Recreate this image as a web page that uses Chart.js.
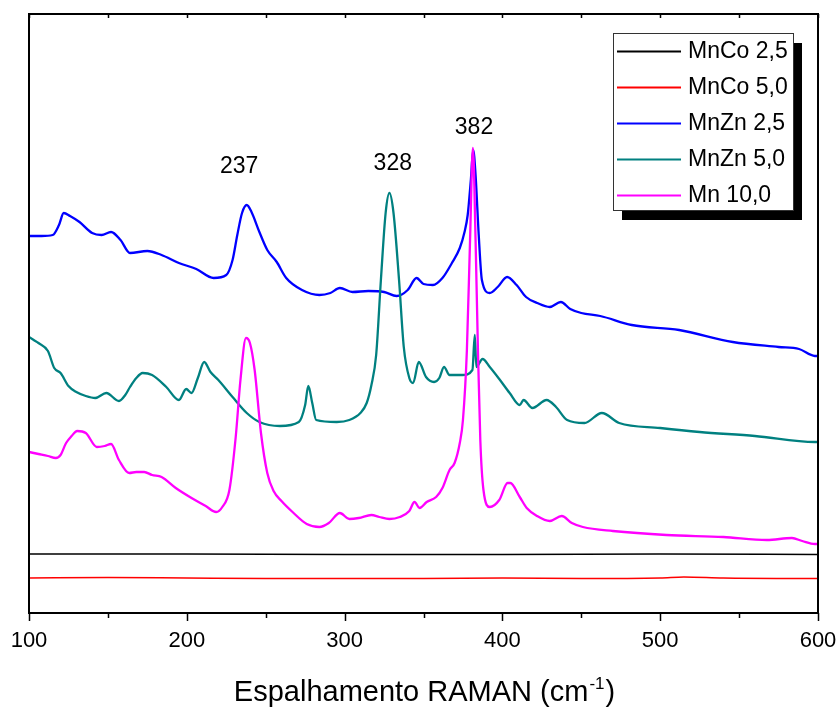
<!DOCTYPE html>
<html>
<head>
<meta charset="utf-8">
<script src="https://cdn.jsdelivr.net/npm/chart.js@4.4.0/dist/chart.umd.min.js"></script>
<style>
    html, body { margin: 0; padding: 0; background: #fff; }
    #raman { display: block; }
</style>
</head>
<body>
<canvas id="raman" width="840" height="711"></canvas>
<script>
// Raman spectra (intensity in arbitrary units, curves stacked with an offset)
const seriesNames = ['MnCo 2,5', 'MnCo 5,0', 'MnZn 2,5', 'MnZn 5,0', 'Mn 10,0'];
const peakLabels = [237, 328, 382];
const xTicks = [100, 200, 300, 400, 500, 600];

const mnCo25X = [100, 200, 300, 400, 500, 600];
const mnCo25Y = [59, 59, 58.5, 58.5, 59, 58.5];

const mnCo50X = [100, 150, 200, 250, 300, 350, 400, 450, 500, 515, 540, 600];
const mnCo50Y = [35, 35.5, 35, 34.5, 34.5, 34.5, 35, 34.5, 35, 36, 35, 34.5];

const mnZn25X = [100, 108, 115, 119, 122, 126, 132, 140, 146, 152, 158, 164, 175, 184, 195, 206, 217, 225, 229, 232,
    235, 238, 241, 246, 251, 257, 263, 273, 284, 291, 297, 305, 315, 325, 333, 340, 345.6, 350, 356, 362,
    368, 373, 376, 378, 380, 381.5, 383, 385, 387, 392, 397, 403, 409, 415, 422, 430, 437, 443, 450, 462,
    482, 512, 546, 575, 588, 598, 600];
const mnZn25Y = [377, 377, 378, 388, 400, 397, 391, 380, 378, 381, 373, 360, 362, 358, 350, 344, 335, 338, 353, 378,
    400, 408, 401, 381, 363, 351, 335, 323, 318, 320, 325, 321, 322, 321, 317, 323, 335, 329, 328, 335,
    350, 365, 381, 398, 433, 463, 438, 378, 333, 320, 326, 336, 328, 316, 310, 306, 311, 304, 300, 297,
    288, 283, 271, 266, 264, 257, 257];

const mnZn50X = [100, 103, 106, 112, 116, 120, 125, 130, 136, 142, 149, 157, 161, 164, 168, 172, 178, 187, 195, 199.6,
    203, 207, 211, 215, 220, 229, 238, 246, 259, 271, 275, 277, 279.5, 282, 295, 303, 310, 314, 317, 320,
    323, 326, 328.4, 331, 334.5, 337.5, 341, 343.4, 347, 351.6, 356.7, 360, 363, 366.5, 374.7, 381, 382.5, 383.5, 387.4, 392,
    398, 404.6, 411, 413.4, 419, 428, 434, 441, 452, 463, 474, 500, 525, 560, 598, 600];
const mnZn50Y = [276, 273, 270, 262, 245, 240, 227, 221, 217, 215, 220, 212, 218, 226, 235, 240, 238, 226, 213, 224,
    220, 235, 251, 241, 233, 216, 200, 191, 187, 191, 208, 227, 210, 193, 191, 193, 200, 210, 228, 258,
    333, 400, 420, 400, 333, 266, 235, 230, 251, 236, 231, 235, 246, 238, 238, 243, 278, 246, 254, 246,
    234, 220, 208, 213, 205, 213, 206, 193, 190, 200, 190, 185, 181, 177, 171, 171];

const mn100X = [100, 106, 112, 117, 120, 123.5, 127, 130.5, 136, 143, 148, 152, 157, 163.5, 168, 173, 178, 184, 193, 203,
    212, 218.6, 222.5, 227, 231, 234, 237.5, 240, 243, 247, 251, 255, 260, 267, 276, 284, 290, 297, 303, 309,
    317, 322, 328.4, 335, 341, 344.3, 347.5, 352, 358, 362, 366.5, 369.7, 373, 375, 377.5, 379.5, 381.3, 383, 384.5, 386,
    388, 392, 398, 403.3, 405, 411, 415.4, 422, 430, 437.6, 444, 451, 470, 504, 540, 567.6, 583.5, 590, 598, 600];
const mn100Y = [161, 159, 157, 155, 158, 170, 177, 182, 180, 166, 167, 169, 153, 140, 141, 141, 138, 136, 125, 115,
    107, 101, 106, 123, 176, 233, 275, 270, 243, 180, 140, 122, 112, 101, 89, 86, 90, 100, 94, 95,
    98, 96, 94, 96, 102, 111, 105, 111, 116, 125, 143, 150, 170, 193, 263, 373, 465, 373, 263, 173,
    123, 106, 113, 130, 130, 116, 105, 97, 92, 97, 90, 86, 82, 78, 76, 73, 75, 72, 69, 69];

const pts = (xs, ys) => xs.map((x, i) => ({ x, y: ys[i] }));

const colors = ['#000000', '#ff0000', '#0000ff', '#008080', '#ff00ff'];
const seriesData = [pts(mnCo25X, mnCo25Y), pts(mnCo50X, mnCo50Y), pts(mnZn25X, mnZn25Y), pts(mnZn50X, mnZn50Y), pts(mn100X, mn100Y)];

const FONT = 'Arial, "Liberation Sans", sans-serif';

// frame, ticks, axis title, peak labels and the shadowed legend
const decor = {
    id: 'decor',
    afterDraw(chart) {
        const { ctx, chartArea: a, scales: { x } } = chart;
        ctx.save();
        ctx.strokeStyle = '#000';
        ctx.lineWidth = 2;
        ctx.strokeRect(a.left, a.top, a.right - a.left, a.bottom - a.top);

        // bottom ticks (outward) and mirrored top ticks (inward)
        ctx.lineWidth = 1.5;
        for (let v = 100; v <= 600; v += 50) {
            const px = Math.round(x.getPixelForValue(v)) + 0.5;
            const major = v % 100 === 0;
            ctx.beginPath();
            ctx.moveTo(px, a.bottom);
            ctx.lineTo(px, a.bottom + (major ? 8 : 5));
            ctx.moveTo(px, a.top);
            ctx.lineTo(px, a.top + 4);
            ctx.stroke();
        }

        // axis title with superscript
        ctx.fillStyle = '#000';
        ctx.textBaseline = 'alphabetic';
        const main = 'Espalhamento RAMAN (cm', sup = '-1', end = ')';
        ctx.font = '29px ' + FONT;
        const w1 = ctx.measureText(main).width, w3 = ctx.measureText(end).width;
        ctx.font = '17px ' + FONT;
        const w2 = ctx.measureText(sup).width;
        const tx = (a.left + a.right) / 2 - (w1 + w2 + w3) / 2;
        const ty = 701;
        ctx.font = '29px ' + FONT;
        ctx.textAlign = 'left';
        ctx.fillText(main, tx, ty);
        ctx.font = '17px ' + FONT;
        ctx.fillText(sup, tx + w1 + 1, ty - 12);
        ctx.font = '29px ' + FONT;
        ctx.fillText(end, tx + w1 + w2 + 2, ty);

        // peak labels
        const labelPos = [[-6, 167], [4, 164], [0, 128]];
        ctx.font = '23px ' + FONT;
        ctx.textAlign = 'center';
        ctx.textBaseline = 'middle';
        peakLabels.forEach((p, i) => {
            ctx.fillText(String(p), x.getPixelForValue(p) + labelPos[i][0], labelPos[i][1]);
        });

        // legend box with shadow
        const lx = 613, ly = 33, lw = 180, lh = 177;
        ctx.fillStyle = '#000';
        ctx.fillRect(lx + 9, ly + 10, lw, lh);
        ctx.fillStyle = '#fff';
        ctx.fillRect(lx, ly, lw, lh);
        ctx.strokeStyle = '#333';
        ctx.lineWidth = 1;
        ctx.strokeRect(lx + 0.5, ly + 0.5, lw, lh);
        ctx.font = '23px ' + FONT;
        ctx.textAlign = 'left';
        chart.data.datasets.forEach((ds, i) => {
            const ry = 51 + i * 36;
            ctx.strokeStyle = ds.borderColor;
            ctx.lineWidth = 2;
            ctx.beginPath();
            ctx.moveTo(617, ry + 0.5);
            ctx.lineTo(681, ry + 0.5);
            ctx.stroke();
            ctx.fillStyle = '#000';
            ctx.fillText(ds.label, 688, ry + 1);
        });
        ctx.restore();
    }
};

new Chart(document.getElementById('raman'), {
    type: 'line',
    data: {
        datasets: seriesNames.map((name, i) => ({
            label: name,
            data: seriesData[i],
            borderColor: colors[i],
            borderWidth: i < 2 ? 1.5 : 2.3,
            pointRadius: 0,
            fill: false,
            cubicInterpolationMode: 'monotone',
            order: 4 - i
        }))
    },
    options: {
        responsive: false,
        animation: false,
        devicePixelRatio: 1,
        layout: { padding: { left: 29, right: 22, top: 14, bottom: 0 } },
        plugins: { legend: { display: false }, tooltip: { enabled: false } },
        scales: {
            x: {
                type: 'linear',
                min: 100,
                max: 600,
                grid: { display: false, drawTicks: false },
                border: { display: false },
                afterBuildTicks: s => { s.ticks = xTicks.map(v => ({ value: v })); },
                afterFit: s => { s.height = 98; s.paddingLeft = 0; s.paddingRight = 0; },
                ticks: {
                    color: '#000',
                    font: { family: FONT, size: 22 },
                    padding: 15,
                    maxRotation: 0
                }
            },
            y: { display: false, min: 0, max: 599 }
        }
    },
    plugins: [decor]
});
</script>
</body>
</html>
